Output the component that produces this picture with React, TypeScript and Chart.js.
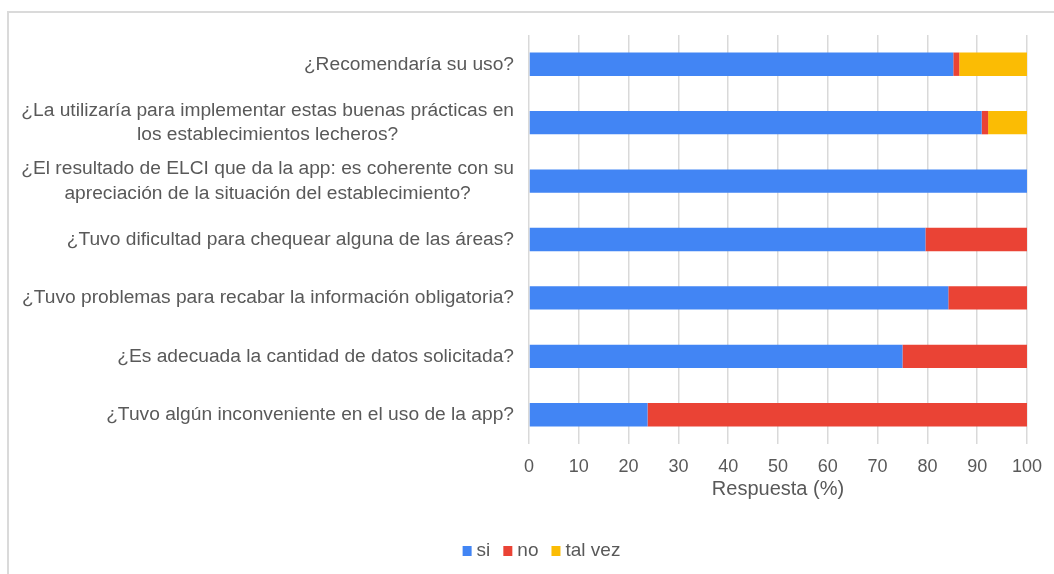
import React, { useEffect, useRef } from "react";
import { Chart, registerables } from "chart.js";

Chart.register(...registerables);

const categories: (string | string[])[] = [
  "¿Recomendaría su uso?",
  ["¿La utilizaría para implementar estas buenas prácticas en", "los establecimientos lecheros?"],
  ["¿El resultado de ELCI que da la app: es coherente con su", "apreciación de la situación del establecimiento?"],
  "¿Tuvo dificultad para chequear alguna de las áreas?",
  "¿Tuvo problemas para recabar la información obligatoria?",
  "¿Es adecuada la cantidad de datos solicitada?",
  "¿Tuvo algún inconveniente en el uso de la app?",
];

const siValues = [85.2, 90.9, 100, 79.6, 84.2, 75.0, 23.8];
const noValues = [1.2, 1.3, 0, 20.4, 15.8, 25.0, 76.2];
const talVezValues = [13.6, 7.8, 0, 0, 0, 0, 0];

const seriesNames = ["si", "no", "tal vez"];
const seriesColors = ["#4285F4", "#EA4335", "#FBBC04"];
const axisTitle = "Respuesta (%)";

const FONT = '"Liberation Sans", Arial, sans-serif';
const TEXT = "#595959";

const W = 1054;
const H = 574;
const AREA_LEFT = 529;
const AREA_RIGHT = 1028;
const AREA_TOP = 35;
const AREA_BOTTOM = 444;
const PAD_LEFT = 55;
const LABEL_RIGHT = 514;
const LABEL_LINE_H = 24.5;
const LEGEND_CENTER_X = 541.5;
const LEGEND_Y = 551;

const customDraw = {
  id: "customDraw",
  afterDraw(chart: any) {
    const ctx = chart.ctx as CanvasRenderingContext2D;
    const yScale = chart.scales.y;
    ctx.save();
    ctx.fillStyle = TEXT;
    ctx.font = `19.2px ${FONT}`;
    ctx.textBaseline = "middle";
    ctx.textAlign = "center";
    categories.forEach((lab, i) => {
      const lines = Array.isArray(lab) ? lab : [lab];
      const w = Math.max(...lines.map((l) => ctx.measureText(l).width));
      const cx = LABEL_RIGHT - w / 2;
      const cy = yScale.getPixelForValue(i);
      lines.forEach((l, j) => {
        ctx.fillText(l, cx, cy + (j - (lines.length - 1) / 2) * LABEL_LINE_H);
      });
    });

    // legend
    const boxW = 9;
    const boxH = 10;
    const gapBoxText = 5;
    const gapItems = 13;
    ctx.font = `19px ${FONT}`;
    const widths = seriesNames.map((n) => ctx.measureText(n).width);
    const total =
      widths.reduce((a, b) => a + b, 0) + seriesNames.length * (boxW + gapBoxText) + gapItems * (seriesNames.length - 1);
    let x = LEGEND_CENTER_X - total / 2;
    ctx.textAlign = "left";
    seriesNames.forEach((n, i) => {
      ctx.fillStyle = seriesColors[i];
      ctx.fillRect(x, LEGEND_Y - boxH / 2, boxW, boxH);
      x += boxW + gapBoxText;
      ctx.fillStyle = TEXT;
      ctx.fillText(n, x, LEGEND_Y);
      x += widths[i] + gapItems;
    });
    ctx.restore();
  },
};

export default function App() {
  const ref = useRef<HTMLCanvasElement | null>(null);

  useEffect(() => {
    if (!ref.current) return;
    const datasets = [siValues, noValues, talVezValues].map((vals, i) => ({
      label: seriesNames[i],
      data: vals,
      backgroundColor: seriesColors[i],
      borderWidth: 0,
      barPercentage: 0.4,
      categoryPercentage: 1,
    }));
    const chart = new Chart(ref.current, {
      type: "bar",
      data: { labels: categories, datasets },
      options: {
        indexAxis: "y",
        responsive: false,
        animation: false,
        devicePixelRatio: 1,
        layout: {
          padding: { left: PAD_LEFT, right: W - AREA_RIGHT, top: AREA_TOP, bottom: 0 },
        },
        plugins: {
          legend: { display: false },
          tooltip: { enabled: false },
          title: { display: false },
        },
        scales: {
          x: {
            stacked: true,
            min: 0,
            max: 100,
            ticks: {
              stepSize: 10,
              color: TEXT,
              font: { family: FONT, size: 18 },
              padding: 12,
            },
            grid: { color: "#d9d9d9", lineWidth: 1.5, drawTicks: false },
            border: { display: false },
            title: {
              display: true,
              text: axisTitle,
              color: TEXT,
              font: { family: FONT, size: 20 },
              padding: { top: 0, bottom: 73 },
            },
            afterFit: (scale: any) => {
              scale.height = H - AREA_BOTTOM;
            },
          },
          y: {
            stacked: true,
            ticks: { display: false },
            grid: { display: false },
            border: { display: false },
            afterFit: (scale: any) => {
              scale.width = AREA_LEFT - PAD_LEFT;
            },
          },
        },
      },
      plugins: [customDraw],
    });
    return () => chart.destroy();
  }, []);

  return (
    <div style={{ position: "fixed", left: 0, top: 0, width: W, height: H, background: "#fff", overflow: "hidden" }}>
      <div
        style={{
          position: "absolute",
          left: 7,
          top: 11,
          width: W,
          height: H,
          borderTop: "2px solid #dadada",
          borderLeft: "2px solid #dadada",
        }}
      />
      <canvas ref={ref} width={W} height={H} style={{ position: "absolute", left: 0, top: 0 }} />
    </div>
  );
}
